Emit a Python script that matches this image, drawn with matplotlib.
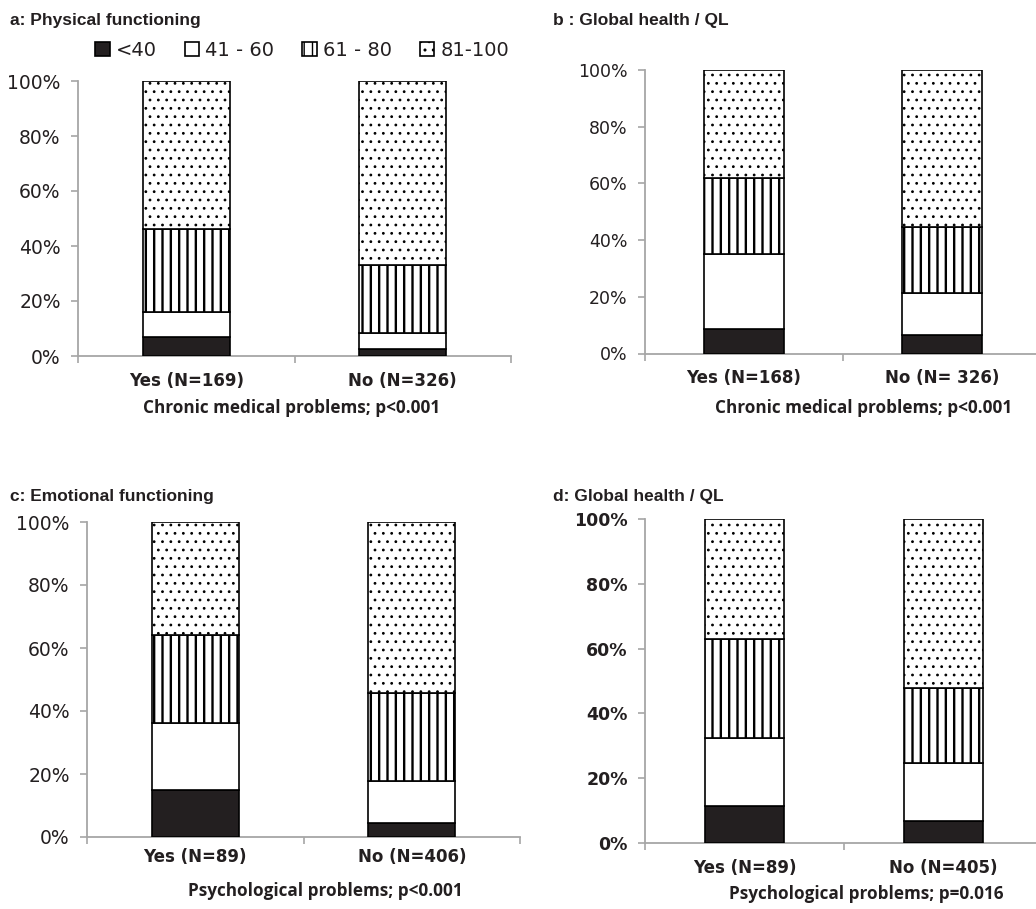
import matplotlib
matplotlib.use("Agg")
import matplotlib.pyplot as plt
import numpy as np

plt.rcParams["font.family"] = ["DejaVu Sans"]
plt.rcParams["hatch.color"] = "black"

# score bands (legend)
bands = ["<40", "41 - 60", "61 - 80", "81-100"]
band_fill = ["#231f20", "white", "white", "white"]
band_hatch = [None, None, "||", ".."]
band_hatch_lw = [1.0, 1.0, 1.7, 0.8]

# percentages per band (rows) for the two groups (cols)
a_values = [[6.9, 2.5], [9.1, 5.9], [30.2, 24.6], [53.8, 67.0]]
b_values = [[8.8, 6.7], [26.2, 14.5], [26.8, 23.3], [38.2, 55.5]]
c_values = [[14.9, 4.4], [21.3, 13.4], [27.9, 27.9], [35.9, 54.3]]
d_values = [[11.4, 6.8], [21.0, 17.9], [30.6, 23.1], [37.0, 52.2]]

a_groups = ["Yes (N=169)", "No (N=326)"]
b_groups = ["Yes (N=168)", "No (N= 326)"]
c_groups = ["Yes (N=89)", "No (N=406)"]
d_groups = ["Yes (N=89)", "No (N=405)"]

titles = ["a: Physical functioning", "b : Global health / QL",
          "c: Emotional functioning", "d: Global health / QL"]
subtitles = ["Chronic medical problems; p<0.001", "Chronic medical problems; p<0.001",
             "Psychological problems; p<0.001", "Psychological problems; p=0.016"]

W, H = 1036, 909
fig = plt.figure(figsize=(W / 100, H / 100), dpi=100)


def px(x, y):
    return x / W, 1 - y / H


# axes boxes in pixels: left, top, right, bottom
boxes = [(78, 81, 511, 356), (645, 70, 1041, 353.5),
         (87, 522, 520, 837), (645, 519, 1043, 843)]
panels = [(a_values, a_groups), (b_values, b_groups),
          (c_values, c_groups), (d_values, d_groups)]
bold_ticks = [False, False, False, True]
ytick_size = [13.5, 12.5, 13.5, 12.5]
xlab_pad = [11.5, 11.5, 8, 11.5]

text_col = "#231f20"
axis_col = "#a6a6a6"

handles = None
for i, ((vals, groups), box) in enumerate(zip(panels, boxes)):
    l, t, r, b = box
    ax = fig.add_axes([l / W, 1 - b / H, (r - l) / W, (b - t) / H])
    x = np.arange(len(groups))
    bottom = np.zeros(len(groups))
    hs = []
    for k in range(len(bands)):
        with plt.rc_context({"hatch.linewidth": band_hatch_lw[k]}):
            h = ax.bar(x, vals[k], 0.4, bottom=bottom, color=band_fill[k],
                       edgecolor="black", linewidth=1.2, hatch=band_hatch[k],
                       label=bands[k], zorder=3)
        for p in h:
            if hasattr(p, "set_hatch_linewidth"):
                p.set_hatch_linewidth(band_hatch_lw[k])
        bottom += np.array(vals[k])
        hs.append(h)
    if handles is None:
        handles = hs
    ax.set_xlim(-0.5, 1.5)
    ax.set_ylim(0, 100)
    ax.set_yticks([0, 20, 40, 60, 80, 100])
    ax.set_yticklabels([f"{v}%" for v in [0, 20, 40, 60, 80, 100]],
                       fontsize=ytick_size[i], color=text_col,
                       fontweight="bold" if bold_ticks[i] else "normal")
    ax.set_xticks(x)
    ax.set_xticklabels(groups, fontsize=12, fontweight="bold", color=text_col)
    ax.set_xticks([-0.5, 0.5, 1.5], minor=True)
    ax.tick_params(axis="x", which="major", length=0, pad=xlab_pad[i])
    ax.tick_params(axis="x", which="minor", length=5, color=axis_col, width=1.2)
    ax.tick_params(axis="y", length=5, color=axis_col, width=1.2, pad=7.5)
    for s in ["top", "right"]:
        ax.spines[s].set_visible(False)
    for s in ["left", "bottom"]:
        ax.spines[s].set_color(axis_col)
        ax.spines[s].set_linewidth(1.3)

# panel titles
title_pos = [(10, 20), (553, 20), (10, 497), (553, 497)]
for (tx, ty), ttl in zip(title_pos, titles):
    fig.text(*px(tx, ty), ttl, fontsize=12.5, fontweight="bold",
             family=["Liberation Sans", "DejaVu Sans"],
             color=text_col, ha="left", va="center")

# x axis captions
sub_pos = [(292, 408), (864, 408), (325, 891), (866, 894)]
for (sx, sy), st in zip(sub_pos, subtitles):
    fig.text(*px(sx, sy), st, fontsize=12.3, fontweight="bold",
             family=["Open Sans", "DejaVu Sans"], color=text_col,
             ha="center", va="center")

leg = fig.legend(handles, bands, loc="center", bbox_to_anchor=px(302, 50),
                 ncol=4, frameon=False, fontsize=14, handlelength=0.75,
                 handleheight=0.75, handletextpad=0.3, columnspacing=1.45,
                 labelcolor=text_col)

fig.savefig("out.png", dpi=100)
